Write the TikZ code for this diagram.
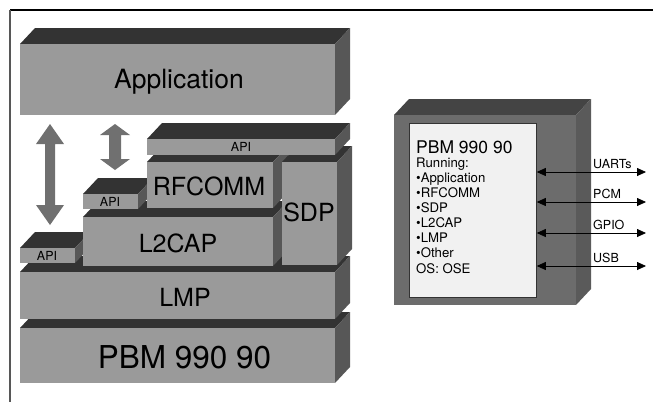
\documentclass[tikz,border=0pt]{standalone}
\usepackage{fontspec}
\setmainfont{TeX Gyre Heros}
\usetikzlibrary{arrows.meta}
\definecolor{facegray}{HTML}{9A9A9A}
\definecolor{topgray}{HTML}{333333}
\definecolor{sidegray}{HTML}{575757}
\definecolor{arrowgray}{HTML}{707070}
\definecolor{dfront}{HTML}{6C6C6C}
\definecolor{dtop}{HTML}{444444}
\definecolor{dside}{HTML}{5A5A5A}
\definecolor{panelfill}{HTML}{F1F1F1}
\newcommand{\slabbox}[7]{%
  % #1 x1, #2 y1, #3 x2, #4 y2, #5 front, #6 top, #7 side
  \fill[#6] (#1,#2) -- ++(15,-16) -- (#3+15,#2-16) -- (#3,#2) -- cycle;
  \fill[#7] (#3,#2) -- (#3+15,#2-16) -- (#3+15,#4-16) -- (#3,#4) -- cycle;
  \fill[#5] (#1,#2) rectangle (#3,#4);
}
\newcommand{\dblarrow}[6]{%
  % #1 cx, #2 top, #3 bottom, #4 head half width, #5 shaft half width, #6 head height
  \fill[arrowgray] (#1,#2) -- (#1+#4,#2+#6) -- (#1+#5,#2+#6) -- (#1+#5,#3-#6) -- (#1+#4,#3-#6)
    -- (#1,#3) -- (#1-#4,#3-#6) -- (#1-#5,#3-#6) -- (#1-#5,#2+#6) -- (#1-#4,#2+#6) -- cycle;
}
\tikzset{
  bigtext/.style={font=\fontsize{25}{27}\selectfont, inner sep=0pt},
  apitext/.style={font=\fontsize{12.5}{14}\selectfont, inner sep=0pt},
  listtext/.style={font=\fontsize{13.2}{15}\selectfont, inner sep=0pt, anchor=base west},
  iflabel/.style={font=\fontsize{12.5}{14}\selectfont, inner sep=0pt, anchor=base west},
  ifline/.style={black, line width=0.8pt, {Triangle[length=9pt,width=8pt]}-{Triangle[length=9pt,width=8pt]}},
}
\begin{document}
\begin{tikzpicture}[x=1pt,y=-1pt]
\useasboundingbox (0,0) rectangle (653,402);
% frame
\draw[black, line width=1.5pt] (10,10) -- (653,10);
\draw[sidegray, line width=2pt] (10,10) -- (10,402);
% stack (back to front)
\slabbox{20}{328}{335}{383}{facegray}{topgray}{sidegray}
\slabbox{20}{272}{335}{319}{facegray}{topgray}{sidegray}
\slabbox{20}{248}{75}{263}{facegray}{topgray}{sidegray}
\slabbox{83}{217}{273}{266}{facegray}{topgray}{sidegray}
\slabbox{83}{194}{138}{209}{facegray}{topgray}{sidegray}
\slabbox{147}{162}{273}{208}{facegray}{topgray}{sidegray}
\slabbox{282}{162}{337}{265}{facegray}{topgray}{sidegray}
\slabbox{147}{139}{335}{155}{facegray}{topgray}{sidegray}
\slabbox{20}{44}{335}{115}{facegray}{topgray}{sidegray}
% labels
\node[bigtext, font=\fontsize{26.5}{28}\selectfont] (app) at (179,82) {Application};
\node[apitext] (apiu) at (241,147) {API};
\node[bigtext] (rfc) at (209,186) {RFCOMM};
\node[apitext] (apim) at (110,202) {API};
\node[bigtext] (sdp) at (309,212) {SDP};
\node[bigtext] (l2c) at (178,243) {L2CAP};
\node[apitext] (apil) at (47,256) {API};
\node[bigtext] (lmp) at (185,297) {LMP};
\node[bigtext, font=\fontsize{31.5}{33}\selectfont] (pbm) at (184.5,357) {PBM 990 90};
% block arrows
\dblarrow{50}{124}{225}{14}{5}{20}
\dblarrow{115}{124}{170}{15}{6}{11}
% right device
\slabbox{394}{115}{576}{305}{dfront}{dtop}{dside}
\node[draw=topgray, line width=0.8pt, fill=panelfill, minimum width=127pt, minimum height=174pt, inner sep=0pt, anchor=north west] (panel) at (409,123) {};
\node[listtext, font=\fontsize{17.5}{19}\selectfont] (t0) at (416,153) {PBM 990 90};
\node[listtext] (t1) at (416,167) {Running:};
\node[listtext] (t2) at (416,182) {•Application};
\node[listtext] (t3) at (416,197) {•RFCOMM};
\node[listtext] (t4) at (416,212) {•SDP};
\node[listtext] (t5) at (416,227) {•L2CAP};
\node[listtext] (t6) at (416,242) {•LMP};
\node[listtext] (t7) at (416,257) {•Other};
\node[listtext] (t8) at (416,273) {OS: OSE};
% interfaces
\coordinate (e1) at (646,172); \coordinate (s1) at (panel.east |- e1);
\coordinate (e2) at (646,202); \coordinate (s2) at (panel.east |- e2);
\coordinate (e3) at (646,233); \coordinate (s3) at (panel.east |- e3);
\coordinate (e4) at (646,266); \coordinate (s4) at (panel.east |- e4);
\draw[ifline] (s1) -- (e1);
\draw[ifline] (s2) -- (e2);
\draw[ifline] (s3) -- (e3);
\draw[ifline] (s4) -- (e4);
\node[iflabel] (l1) at (593,168) {UARTs};
\node[iflabel] (l2) at (593,198) {PCM};
\node[iflabel] (l3) at (593,229) {GPIO};
\node[iflabel] (l4) at (593,262) {USB};
\end{tikzpicture}
\end{document}
